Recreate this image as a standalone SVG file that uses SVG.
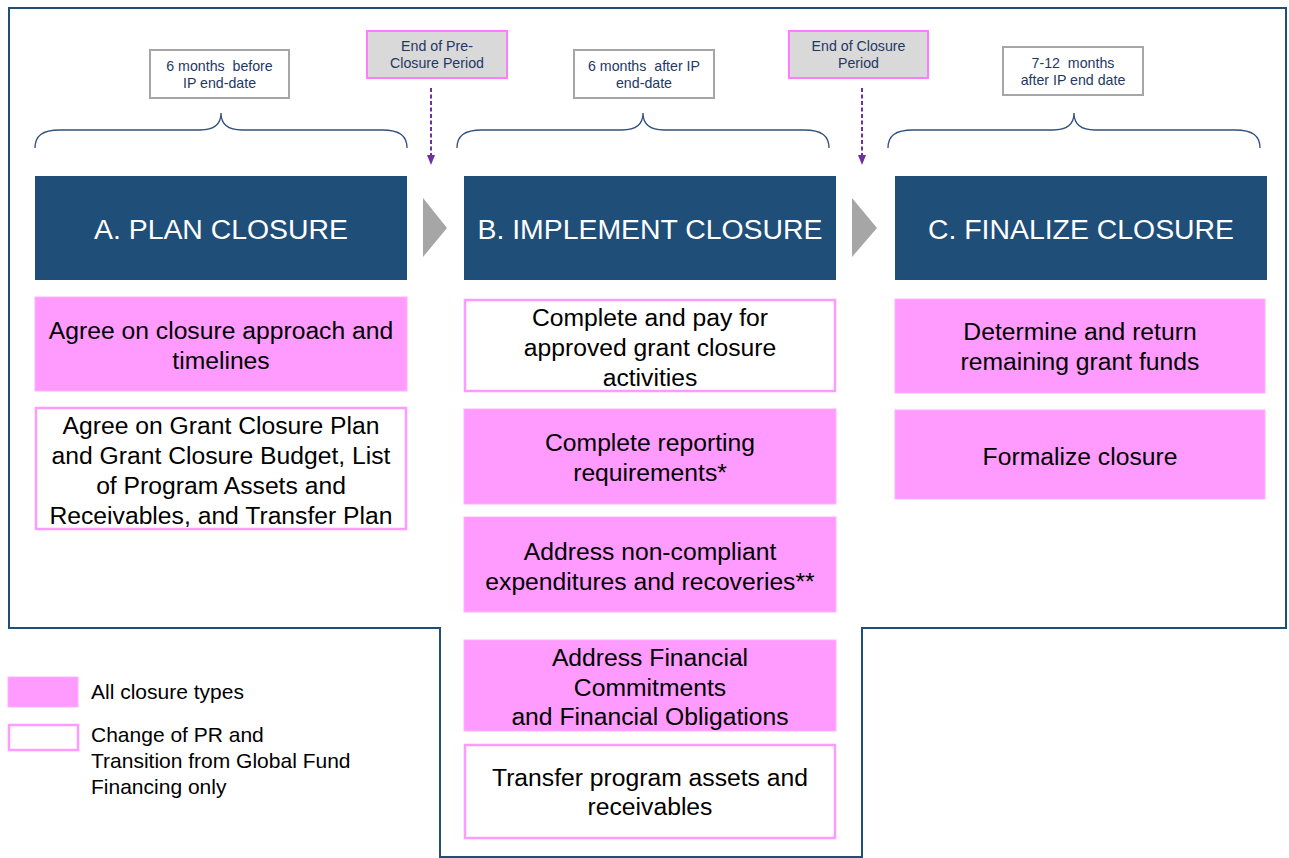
<svg xmlns="http://www.w3.org/2000/svg" width="1289" height="858" viewBox="0 0 1289 858">
<defs>
<style>
.hdr{fill:#1F4E79}
.hdrt{fill:#fff;font-family:"Liberation Sans",Arial,sans-serif;font-size:28.4px;text-anchor:middle}
.pink{fill:#FF9BFF;stroke:#FFB0FF;stroke-width:1}
.wbox{fill:#fff;stroke:#FF9BFF;stroke-width:2.5}
.bt{fill:#000;font-family:"Liberation Sans",Arial,sans-serif;font-size:24.7px;text-anchor:middle}
.lab{fill:#fff;stroke:#A6A6A6;stroke-width:2}
.labp{fill:#D9D9D9;stroke:#FF7BFF;stroke-width:2}
.lt{fill:#1F3864;font-family:"Liberation Sans",Arial,sans-serif;font-size:14.2px;text-anchor:middle}
.brace{fill:none;stroke:#2F4F7F;stroke-width:1.3}
.tri{fill:#A6A6A6}
.dash{stroke:#7030A0;stroke-width:2;stroke-dasharray:4,2.5;fill:none}
.leg{fill:#000;font-family:"Liberation Sans",Arial,sans-serif;font-size:21px}
</style>
<marker id="ah" markerWidth="10" markerHeight="10" refX="5" refY="5" orient="auto" markerUnits="userSpaceOnUse">
<path d="M0,1 L10,5 L0,9 Z" fill="#7030A0"/>
</marker>
</defs>
<rect width="1289" height="858" fill="#fff"/>
<path d="M9,8 L1286,8 L1286,628 L862,628 L862,857 L440,857 L440,628 L9,628 Z" fill="none" stroke="#1F4E79" stroke-width="2"/>

<g id="connectors">
<path class="brace" d="M35,148 C35,136 42,130 60,130 L200,130 C214,130 221,124 221,113 C221,124 228,130 242,130 L382,130 C400,130 407,136 407,148"/>
<path class="brace" d="M457,148 C457,136 464,130 482,130 L622,130 C636,130 643,124 643,113 C643,124 650,130 664,130 L804,130 C822,130 829,136 829,148"/>
<path class="brace" d="M888,148 C888,136 895,130 913,130 L1053,130 C1067,130 1074,124 1074,113 C1074,124 1081,130 1095,130 L1235,130 C1253,130 1260,136 1260,148"/>
<path class="dash" d="M431,88 L431,160" marker-end="url(#ah)"/>
<path class="dash" d="M862,88 L862,160" marker-end="url(#ah)"/>
<path class="tri" d="M423,198 L447,228 L423,257 Z"/>
<path class="tri" d="M852,198 L877,228 L852,257 Z"/>
</g>

<g id="label-before">
<rect class="lab" x="150" y="50" width="139" height="48"/>
<text class="lt" x="219.5" y="71" xml:space="preserve">6 months  before</text>
<text class="lt" x="219.5" y="88">IP end-date</text>
</g>
<g id="label-preclosure">
<rect class="labp" x="367" y="31" width="140" height="47"/>
<text class="lt" x="437" y="51">End of Pre-</text>
<text class="lt" x="437" y="68">Closure Period</text>
</g>
<g id="label-after">
<rect class="lab" x="574" y="50" width="140" height="48"/>
<text class="lt" x="644" y="71" xml:space="preserve">6 months  after IP</text>
<text class="lt" x="644" y="88">end-date</text>
</g>
<g id="label-closure">
<rect class="labp" x="789" y="31" width="139" height="47"/>
<text class="lt" x="858.5" y="51">End of Closure</text>
<text class="lt" x="858.5" y="68">Period</text>
</g>
<g id="label-712">
<rect class="lab" x="1003" y="47" width="140" height="48"/>
<text class="lt" x="1073" y="68" xml:space="preserve">7-12  months</text>
<text class="lt" x="1073" y="85">after IP end date</text>
</g>

<g id="A-header">
<rect class="hdr" x="35" y="176" width="372" height="104"/>
<text class="hdrt" x="221" y="239">A. PLAN CLOSURE</text>
</g>
<g id="B-header">
<rect class="hdr" x="464" y="176" width="372" height="104"/>
<text class="hdrt" x="650" y="239">B. IMPLEMENT CLOSURE</text>
</g>
<g id="C-header">
<rect class="hdr" x="895" y="176" width="372" height="104"/>
<text class="hdrt" x="1081" y="239">C. FINALIZE CLOSURE</text>
</g>

<g id="A1">
<rect class="pink" x="35" y="297" width="372" height="94"/>
<text class="bt" x="221" y="339">Agree on closure approach and</text>
<text class="bt" x="221" y="369">timelines</text>
</g>
<g id="A2">
<rect class="wbox" x="36" y="408" width="370" height="121"/>
<text class="bt" x="221" y="434">Agree on Grant Closure Plan</text>
<text class="bt" x="221" y="464">and Grant Closure Budget, List</text>
<text class="bt" x="221" y="494">of Program Assets and</text>
<text class="bt" x="221" y="524">Receivables, and Transfer Plan</text>
</g>

<g id="B1">
<rect class="wbox" x="465" y="300" width="370" height="91"/>
<text class="bt" x="650" y="326">Complete and pay for</text>
<text class="bt" x="650" y="356">approved grant closure</text>
<text class="bt" x="650" y="386">activities</text>
</g>
<g id="B2">
<rect class="pink" x="464" y="409" width="372" height="95"/>
<text class="bt" x="650" y="451">Complete reporting</text>
<text class="bt" x="650" y="481">requirements*</text>
</g>
<g id="B3">
<rect class="pink" x="464" y="517" width="372" height="95"/>
<text class="bt" x="650" y="560">Address non-compliant</text>
<text class="bt" x="650" y="590">expenditures and recoveries**</text>
</g>
<g id="B4">
<rect class="pink" x="464" y="640" width="372" height="91"/>
<text class="bt" x="650" y="666">Address Financial</text>
<text class="bt" x="650" y="696">Commitments</text>
<text class="bt" x="650" y="725">and Financial Obligations</text>
</g>
<g id="B5">
<rect class="wbox" x="465" y="745" width="370" height="93"/>
<text class="bt" x="650" y="786">Transfer program assets and</text>
<text class="bt" x="650" y="815">receivables</text>
</g>

<g id="C1">
<rect class="pink" x="895" y="299" width="370" height="94"/>
<text class="bt" x="1080" y="340">Determine and return</text>
<text class="bt" x="1080" y="370">remaining grant funds</text>
</g>
<g id="C2">
<rect class="pink" x="895" y="410" width="370" height="89"/>
<text class="bt" x="1080" y="465">Formalize closure</text>
</g>

<g id="legend">
<rect class="pink" x="8" y="677" width="70" height="30"/>
<text class="leg" x="91" y="699">All closure types</text>
<rect class="wbox" x="9" y="725" width="69" height="25"/>
<text class="leg" x="91" y="742">Change of PR and</text>
<text class="leg" x="91" y="768">Transition from Global Fund</text>
<text class="leg" x="91" y="794">Financing only</text>
</g>
</svg>
